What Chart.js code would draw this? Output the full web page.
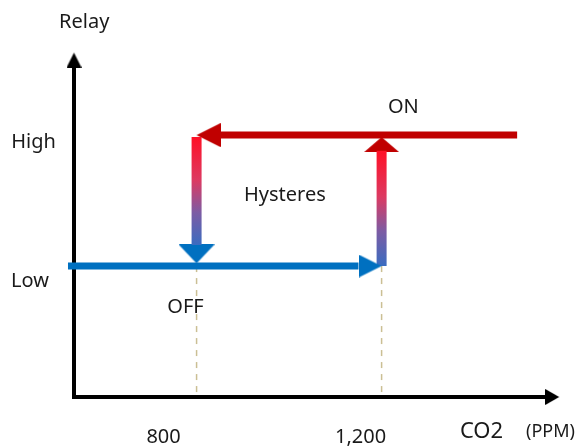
<!DOCTYPE html>
<html>
<head>
<meta charset="utf-8">
<script src="https://cdn.jsdelivr.net/npm/chart.js@4.4.1/dist/chart.umd.min.js"></script>
<style>
html, body { margin: 0; padding: 0; background: #fff; }
#wrap { width: 581px; height: 446px; }
</style>
</head>
<body>
<div id="wrap"><canvas id="chart" width="581" height="446"></canvas></div>
<script>
// CO2 thresholds (ppm) and relay levels
var ppmTicks = [800, 1200];
var ppmTickLabels = ['800', '1,200'];
var relayLevels = [1, 2];
var relayLabels = ['Low', 'High'];

// range of the two axes
var ppmMin = 535, ppmMax = 1590;
var relayMin = 0, relayMax = 2.65;

// axis lines: y axis up to its head, x axis to its head
var axisX = [535, 535, 1555];
var axisY = [2.53, 0, 0];
var yAxisTip = 2.63, xAxisTip = 1584;

// blue arrow (relay Low, CO2 rising) and red arrow (relay High, CO2 falling)
var lowShaftX = [522, 1150], lowTipX = 1200;
var highShaftX = [1493, 848], highTipX = 800;
// vertical switching arrows
var offShaftY = [1.985, 1.16], offTipY = 1.02;   // down at 800
var onShaftY = [1.0, 1.88], onTipY = 1.985;      // up at 1200

var RED = '#c00000', BLUE = '#0070c0';

// arrow head drawn into a small canvas, tip in the centre, pointing up
function head(len, wid, color) {
    var c = document.createElement('canvas');
    c.width = wid; c.height = len * 2;
    var g = c.getContext('2d');
    g.fillStyle = color;
    g.beginPath();
    g.moveTo(wid / 2, len);
    g.lineTo(wid, len * 2);
    g.lineTo(0, len * 2);
    g.closePath();
    g.fill();
    return c;
}

// red (top) to blue (bottom) shaft
function vGrad(topVal, botVal) {
    return function (ctx) {
        var ch = ctx.chart;
        if (!ch.chartArea) return RED;
        var y = ch.scales.y;
        var g = ch.ctx.createLinearGradient(0, y.getPixelForValue(topVal), 0, y.getPixelForValue(botVal));
        g.addColorStop(0, '#ff1026');
        g.addColorStop(0.4, '#dc3a62');
        g.addColorStop(0.7, '#7c5ca4');
        g.addColorStop(1, '#3a6cc0');
        return g;
    };
}

function line(xs, ys, color, width, order, extra) {
    var pts = xs.map(function (x, i) { return { x: x, y: ys[i] }; });
    var ds = { data: pts, borderColor: color, borderWidth: width, pointRadius: 0, tension: 0,
        fill: false, clip: false, order: order, borderJoinStyle: 'miter' };
    return Object.assign(ds, extra || {});
}

function tip(x, y, img, rot, order) {
    return { data: [{ x: x, y: y }], showLine: false, pointRadius: 1, pointHitRadius: 0,
        pointStyle: img, pointRotation: rot, clip: false, order: order };
}

// texts placed in value coordinates
var notes = [
    { t: 'Relay', x: 557, y: 2.817, size: 20 },
    { t: 'ON', x: 1247, y: 2.168, size: 20 },
    { t: 'Hysteres', x: 991, y: 1.496, size: 20 },
    { t: 'OFF', x: 776, y: 0.641, size: 20 },
    { t: 'CO2', x: 1416, y: -0.313, size: 22 },
    { t: '(PPM)', x: 1565, y: -0.305, size: 18 }
];
var xTickDx = [-33, -21], xTickDy = 46;
var yTickCx = [30, 33.5], yTickDy = [21, 13];

var textPlugin = {
    id: 'texts',
    afterDatasetsDraw: function (chart) {
        var c = chart.ctx, xs = chart.scales.x, ys = chart.scales.y;
        c.save();
        c.fillStyle = '#1a1a1a';
        c.textAlign = 'center';
        c.textBaseline = 'alphabetic';
        notes.forEach(function (n) {
            c.font = n.size + 'px "Noto Sans"';
            c.fillText(n.t, xs.getPixelForValue(n.x), ys.getPixelForValue(n.y));
        });
        c.font = '20px "Noto Sans"';
        ppmTicks.forEach(function (v, i) {
            c.fillText(ppmTickLabels[i], xs.getPixelForValue(v) + xTickDx[i], ys.getPixelForValue(0) + xTickDy);
        });
        relayLevels.forEach(function (v, i) {
            c.fillText(relayLabels[i], yTickCx[i], ys.getPixelForValue(v) + yTickDy[i]);
        });
        c.restore();
    }
};

var datasets = [
    // lower order is drawn on top
    line(lowShaftX, [relayLevels[0], relayLevels[0]], BLUE, 7, 1),
    tip(lowTipX, relayLevels[0], head(23, 23, BLUE), 90, 1),
    line([ppmTicks[0], ppmTicks[0]], offShaftY, vGrad(offShaftY[0], offShaftY[1]), 10, 2),
    tip(ppmTicks[0], offTipY, head(19, 36, BLUE), 180, 2),
    line(highShaftX, [relayLevels[1], relayLevels[1]], RED, 7, 3),
    tip(highTipX, relayLevels[1], head(24, 24, RED), 270, 3),
    line([ppmTicks[1], ppmTicks[1]], onShaftY, vGrad(onShaftY[1], onShaftY[0]), 10, 4),
    tip(ppmTicks[1], onTipY, head(15, 35, RED), 0, 4),
    line(axisX, axisY, '#000', 4, 5),
    tip(axisX[0], yAxisTip, head(15, 15, '#000'), 0, 5),
    tip(xAxisTip, 0, head(14, 16, '#000'), 90, 5)
];
// dashed guides from the low level down to the axis
ppmTicks.forEach(function (v) {
    datasets.push(line([v, v], [relayLevels[0], 0], '#cbbf94', 1.5, 9, { borderDash: [6, 6] }));
});

var ctx = document.getElementById('chart').getContext('2d');
new Chart(ctx, {
    type: 'line',
    data: { datasets: datasets },
    options: {
        animation: false,
        responsive: false,
        events: [],
        layout: { padding: { left: 74, right: 19, top: 50, bottom: 49 } },
        scales: {
            x: { type: 'linear', min: ppmMin, max: ppmMax, display: false },
            y: { type: 'linear', min: relayMin, max: relayMax, display: false }
        },
        plugins: { legend: { display: false }, tooltip: { enabled: false } }
    },
    plugins: [textPlugin]
});
</script>
</body>
</html>
